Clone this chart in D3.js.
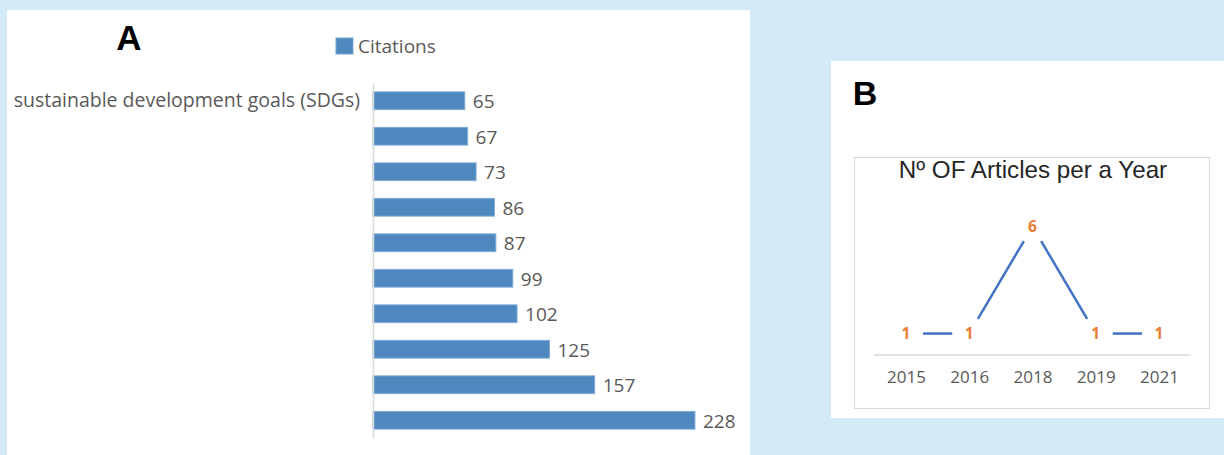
<!DOCTYPE html>
<html>
<head>
<meta charset="utf-8">
<script src="https://cdn.jsdelivr.net/npm/d3@7"></script>
<style>
  html, body { margin: 0; padding: 0; background: #d4eaf7; }
  svg { display: block; }
</style>
</head>
<body>
<svg id="fig" width="1224" height="455"></svg>
<script>
// Panel A: citations per document (top to bottom)
const citationCategories = ["sustainable development goals (SDGs)", "", "", "", "", "", "", "", "", ""];
const citationValues = [65, 67, 73, 86, 87, 99, 102, 125, 157, 228];
const citationSeries = "Citations";

// Panel B: number of articles per year
const years = ["2015", "2016", "2018", "2019", "2021"];
const articleCounts = [1, 1, 6, 1, 1];
const lineTitle = "Nº OF Articles per a Year";

const svg = d3.select("#fig");

// ---------- Panel A ----------
const A = svg.append("g");
A.append("rect").attr("x", 7).attr("y", 10).attr("width", 743).attr("height", 445).attr("fill", "#fff");
A.append("text").attr("x", 129).attr("y", 50).attr("text-anchor", "middle")
  .attr("font-family", "Liberation Sans, Arial, sans-serif").attr("font-weight", "bold")
  .attr("font-size", 35).attr("fill", "#000").text("A");

// legend
A.append("rect").attr("x", 336).attr("y", 38).attr("width", 17).attr("height", 16)
  .attr("fill", "#4f88be").attr("stroke", "#7aa7d4").attr("stroke-width", 1);
A.append("text").attr("x", 358).attr("y", 53).attr("font-family", "Open Sans, sans-serif")
  .attr("font-size", 19).attr("fill", "#595959").text(citationSeries);

const xA = d3.scaleLinear().domain([0, 250]).range([373, 726]);
const yA = d3.scaleBand().domain(d3.range(citationValues.length)).range([83, 438])
  .paddingInner(0.5).paddingOuter(0.25);

A.selectAll("rect.bar").data(citationValues).join("rect").attr("class", "bar")
  .attr("x", xA(0)).attr("y", (d, i) => yA(i))
  .attr("width", d => xA(d) - xA(0)).attr("height", yA.bandwidth())
  .attr("fill", "#4f88be").attr("stroke", "#80abd6").attr("stroke-width", 1);

// vertical category axis
const axisA = d3.axisLeft(yA).tickSize(0).tickPadding(13).tickFormat(i => citationCategories[i]);
const gAxA = A.append("g").attr("transform", `translate(${xA(0)},0)`).call(axisA);
gAxA.select(".domain").attr("stroke", "#d9d9d9").attr("stroke-width", 1.5);
gAxA.selectAll("text").attr("font-family", "Open Sans, sans-serif").attr("font-size", 19.5)
  .attr("fill", "#595959");

A.selectAll("text.val").data(citationValues).join("text").attr("class", "val")
  .attr("x", d => xA(d) + 8).attr("y", (d, i) => yA(i) + yA.bandwidth() / 2 + 1)
  .attr("dy", "0.35em").attr("font-family", "Open Sans, sans-serif")
  .attr("font-size", 19).attr("fill", "#595959").text(d => d);

// ---------- Panel B ----------
const B = svg.append("g");
B.append("rect").attr("x", 831).attr("y", 61).attr("width", 393).attr("height", 357).attr("fill", "#fff");
B.append("text").attr("x", 865).attr("y", 105).attr("text-anchor", "middle")
  .attr("font-family", "Liberation Sans, Arial, sans-serif").attr("font-weight", "bold")
  .attr("font-size", 34).attr("fill", "#000").text("B");
B.append("rect").attr("x", 854.5).attr("y", 157.5).attr("width", 355).attr("height", 251)
  .attr("fill", "#fff").attr("stroke", "#d9d9d9").attr("stroke-width", 1);
B.append("text").attr("x", 1033).attr("y", 178).attr("text-anchor", "middle")
  .attr("font-family", "Liberation Sans, Arial, sans-serif").attr("font-size", 24.2)
  .attr("fill", "#262626").text(lineTitle);

const xB = d3.scalePoint().domain(years).range([906, 1159]);
const yB = d3.scaleLinear().domain([0, 7]).range([355, 205]);

const axisB = d3.axisBottom(xB).tickSize(0).tickPadding(16);
const gAxB = B.append("g").attr("transform", `translate(0,${yB(0)})`).call(axisB);
gAxB.select(".domain").attr("d", "M874,0H1191").attr("stroke", "#d9d9d9").attr("stroke-width", 1.5);
gAxB.selectAll("text").attr("font-family", "Open Sans, sans-serif").attr("font-size", 17)
  .attr("fill", "#595959");

// line segments, trimmed around each data label
const pts = years.map((y, i) => [xB(y), yB(articleCounts[i])]);
const gap = 17;
const segs = d3.pairs(pts).map(([p, q]) => {
  const dx = q[0] - p[0], dy = q[1] - p[1], len = Math.hypot(dx, dy);
  const ux = dx / len, uy = dy / len;
  return [[p[0] + ux * gap, p[1] + uy * gap], [q[0] - ux * gap, q[1] - uy * gap]];
});
B.selectAll("line.seg").data(segs).join("line").attr("class", "seg")
  .attr("x1", d => d[0][0]).attr("y1", d => d[0][1])
  .attr("x2", d => d[1][0]).attr("y2", d => d[1][1])
  .attr("stroke", "#4472c4").attr("stroke-width", 2.5);

B.selectAll("text.lbl").data(articleCounts).join("text").attr("class", "lbl")
  .attr("x", (d, i) => xB(years[i])).attr("y", d => yB(d)).attr("dy", "0.36em")
  .attr("text-anchor", "middle").attr("font-family", "Open Sans, sans-serif")
  .attr("font-weight", "bold").attr("font-size", 15.5).attr("fill", "#ed7d31").text(d => d);
</script>
</body>
</html>
